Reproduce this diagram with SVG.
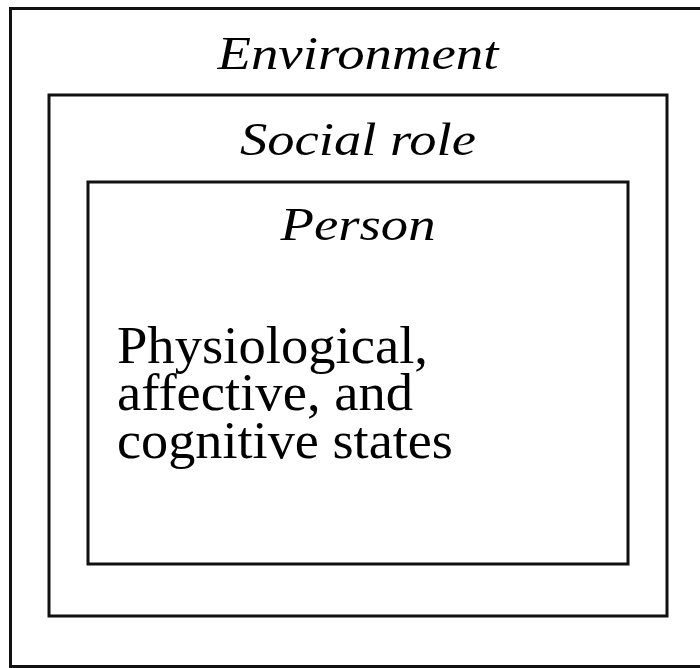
<svg xmlns="http://www.w3.org/2000/svg" width="700" height="668" viewBox="0 0 700 668">
<style>
.box{fill:none;stroke:#111;stroke-width:3}
.h{font-family:"Liberation Serif",serif;font-style:italic;font-size:47px;fill:#000;text-anchor:middle}
.b{font-family:"Liberation Serif",serif;font-size:53px;fill:#000}
</style>
<rect width="700" height="668" fill="#fff"/>
<g id="environment">
<rect class="box" x="10.5" y="8.5" width="700" height="658"/>
<text class="h" x="358" y="69" textLength="281" lengthAdjust="spacingAndGlyphs">Environment</text>
</g>
<g id="social-role">
<rect class="box" x="49" y="95" width="618" height="521"/>
<text class="h" x="358" y="155" textLength="236" lengthAdjust="spacingAndGlyphs">Social role</text>
</g>
<g id="person">
<rect class="box" x="88" y="182" width="540" height="382"/>
<text class="h" x="358" y="240" textLength="155" lengthAdjust="spacingAndGlyphs">Person</text>
<text class="b" x="117" y="363" textLength="311" lengthAdjust="spacingAndGlyphs">Physiological,</text>
<text class="b" x="117" y="410" textLength="296" lengthAdjust="spacingAndGlyphs">affective, and</text>
<text class="b" x="117" y="458" textLength="336" lengthAdjust="spacingAndGlyphs">cognitive states</text>
</g>
<g id="connectors"></g>
</svg>
